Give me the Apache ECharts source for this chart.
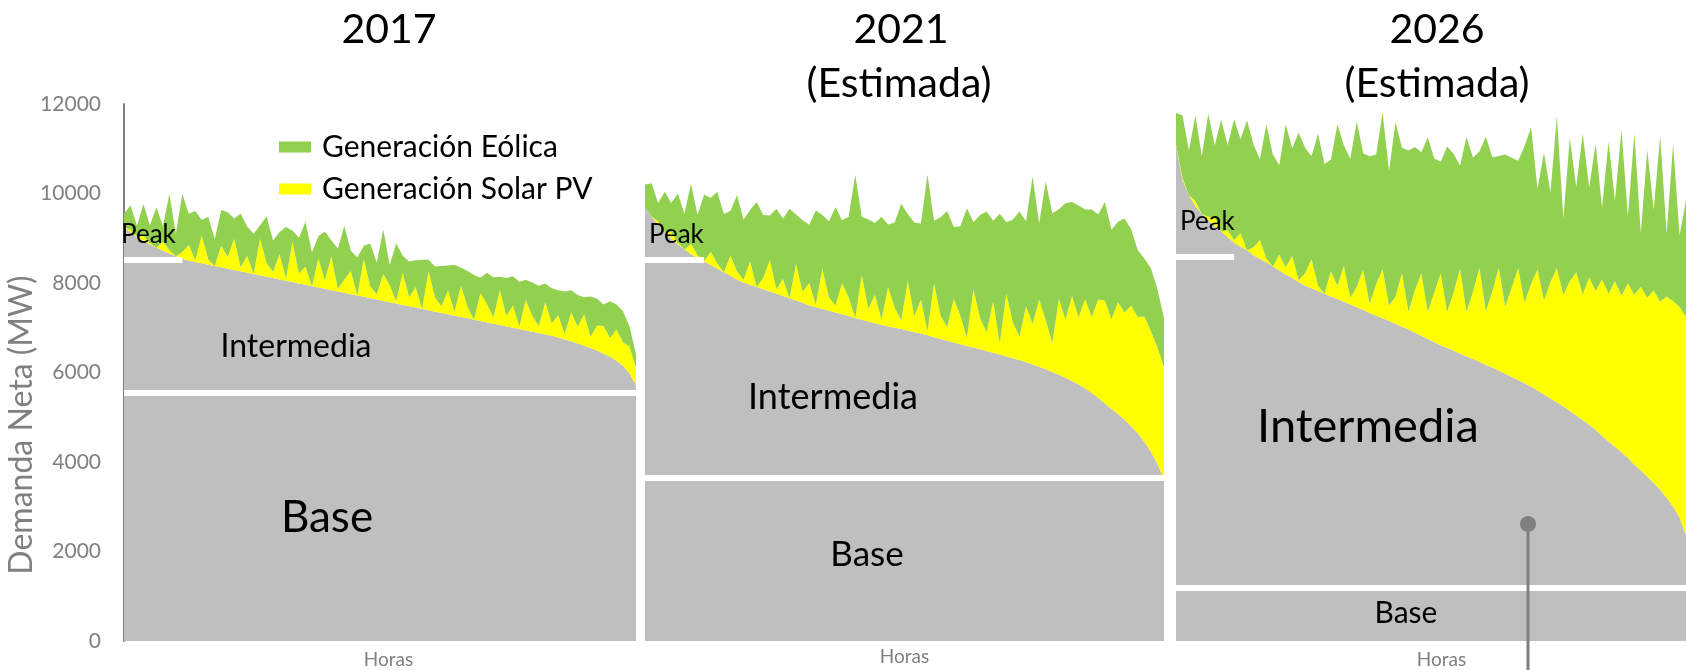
<!DOCTYPE html>
<html lang="es" style="height: 100%">

<head>
  <meta charset="utf-8">
</head>

<body style="height: 100%; margin: 0; background: #fff">
  <div id="container" style="width: 1686px; height: 670px"></div>

  <script type="text/javascript" src="https://cdn.jsdelivr.net/npm/echarts@6/dist/echarts.min.js"></script>
  <script type="text/javascript">
    // curvas de duración (80 muestras por año), MW
    var net2017 = [9250, 9130, 9030, 8940, 8860, 8790, 8720, 8660, 8600, 8540,
      8500, 8470, 8440, 8410, 8380, 8350, 8320, 8290, 8260, 8230,
      8200, 8170, 8140, 8110, 8080, 8050, 8020, 7990, 7960, 7930,
      7900, 7870, 7840, 7810, 7780, 7750, 7720, 7690, 7660, 7630,
      7600, 7570, 7540, 7510, 7480, 7450, 7420, 7390, 7360, 7330,
      7300, 7270, 7240, 7210, 7180, 7150, 7120, 7090, 7060, 7030,
      7000, 6970, 6940, 6910, 6880, 6850, 6820, 6780, 6740, 6700,
      6650, 6600, 6550, 6490, 6420, 6350, 6260, 6150, 5980, 5720];
    var solar2017 = [0, 60, 0, 120, 30, 0, 200, 80, 0, 150,
      350, 40, 620, 120, 0, 480, 260, 700, 90, 380,
      0, 820, 300, 140, 560, 50, 900, 220, 410, 0,
      650, 180, 760, 60, 300, 520, 0, 840, 270, 120,
      600, 380, 50, 720, 200, 460, 0, 880, 310, 150,
      540, 90, 700, 260, 0, 620, 410, 140, 780, 230,
      500, 60, 680, 350, 160, 720, 280, 500, 120, 640,
      380, 700, 250, 560, 620, 420, 700, 520, 600, 380];
    var wind2017 = [300, 550, 250, 700, 400, 900, 350, 1250, 500, 1300,
      700, 1100, 350, 950, 600, 800, 1000, 450, 1200, 650,
      900, 300, 1050, 700, 500, 1150, 250, 800, 1000, 750,
      500, 1100, 350, 900, 1200, 450, 850, 300, 950, 700,
      1000, 450, 1300, 380, 800, 600, 1100, 250, 700, 900,
      550, 1050, 400, 800, 1000, 350, 700, 900, 300, 850,
      650, 1000, 450, 750, 900, 420, 780, 560, 950, 500,
      700, 380, 900, 600, 480, 820, 560, 700, 450, 300];

    var net2021 = [9700, 9480, 9300, 9140, 8990, 8860, 8750, 8650, 8560, 8480,
      8400, 8320, 8240, 8160, 8080, 8010, 7960, 7910, 7860, 7810,
      7760, 7710, 7660, 7610, 7560, 7500, 7460, 7420, 7380, 7340,
      7300, 7260, 7220, 7180, 7140, 7100, 7060, 7030, 7000, 6970,
      6940, 6900, 6870, 6830, 6790, 6750, 6710, 6670, 6630, 6590,
      6560, 6520, 6480, 6440, 6400, 6360, 6320, 6280, 6230, 6180,
      6130, 6070, 6010, 5950, 5880, 5810, 5730, 5640, 5540, 5430,
      5310, 5190, 5070, 4940, 4800, 4640, 4450, 4230, 3960, 3620];
    var solar2021 = [0, 0, 80, 0, 150, 40, 0, 220, 60, 0,
      300, 120, 0, 450, 180, 60, 520, 0, 260, 700,
      100, 380, 0, 820, 240, 500, 60, 900, 300, 150,
      700, 420, 0, 1000, 280, 640, 120, 880, 450, 200,
      1100, 350, 760, 90, 1200, 520, 300, 980, 640, 180,
      1300, 700, 420, 1150, 250, 1400, 800, 520, 1250, 900,
      1500, 1100, 650, 1700, 1300, 1900, 1500, 2000, 1700, 2200,
      2300, 2000, 2500, 2400, 2700, 2600, 2800, 2700, 2600, 2500];
    var wind2021 = [500, 750, 400, 900, 650, 1100, 800, 1350, 900, 1500,
      1200, 1600, 1300, 1000, 1700, 1350, 1150, 1900, 1400, 1000,
      1800, 1350, 2000, 1100, 1600, 1300, 2100, 1200, 1700, 2200,
      1400, 1800, 3200, 1300, 2000, 1600, 2300, 1400, 1900, 2600,
      1500, 2100, 1700, 3500, 1400, 2200, 2600, 1600, 2000, 2900,
      1500, 2300, 2700, 1800, 2900, 1600, 2300, 2800, 1900, 3300,
      1700, 3100, 2900, 2000, 2600, 2100, 2500, 2000, 2400, 1900,
      2200, 2000, 1800, 2100, 1700, 1500, 1300, 1400, 1300, 1100];

    var net2026 = [11100, 10300, 9960, 9720, 9540, 9400, 9270, 9150, 9030, 8900,
      8810, 8730, 8620, 8540, 8460, 8370, 8280, 8190, 8110, 8020,
      7940, 7880, 7820, 7760, 7700, 7640, 7580, 7520, 7460, 7400,
      7330, 7270, 7210, 7150, 7090, 7020, 6960, 6890, 6820, 6750,
      6680, 6610, 6550, 6490, 6420, 6360, 6300, 6240, 6170, 6110,
      6040, 5970, 5900, 5830, 5760, 5680, 5600, 5510, 5420, 5330,
      5240, 5140, 5040, 4940, 4830, 4720, 4580, 4460, 4340, 4220,
      4090, 3940, 3810, 3670, 3530, 3380, 3200, 3000, 2760, 2350];
    var solar2026 = [0, 50, 0, 120, 0, 80, 200, 0, 150, 60,
      300, 0, 180, 420, 90, 0, 350, 160, 500, 40,
      280, 650, 120, 0, 560, 300, 800, 150, 450, 900,
      200, 700, 1100, 350, 600, 1200, 400, 950, 1400, 600,
      1100, 1600, 800, 1300, 1900, 1000, 1500, 2100, 1200, 1700,
      2300, 1500, 2000, 2500, 1800, 2300, 2700, 2100, 2600, 3000,
      2500, 2900, 3200, 2800, 3300, 3100, 3500, 3300, 3700, 3500,
      3900, 3800, 4100, 4000, 4300, 4200, 4500, 4600, 4700, 4900];
    var wind2026 = [700, 1400, 1000, 1900, 1300, 2300, 1600, 2500, 1900, 2700,
      2100, 2900, 2300, 1800, 3000, 2500, 2000, 3200, 2400, 3300,
      2800, 2300, 3400, 2900, 2500, 3600, 2700, 3100, 3700, 2600,
      3300, 2900, 3500, 3000, 3900, 2800, 3600, 3200, 2700, 3900,
      3000, 2500, 3700, 3100, 2300, 3900, 3000, 2600, 3900, 3000,
      2500, 3400, 2900, 2400, 3500, 3500, 1800, 3300, 2000, 3400,
      1700, 3200, 1900, 3600, 2000, 3300, 1600, 3400, 1800, 3700,
      1500, 3600, 1200, 3300, 1800, 3700, 1400, 3500, 1600, 2600];

    var years = ['2017', '2021', '2026'];
    var peakLevels = [8530, 8520, 8580];
    var baseLevels = [5540, 3640, 1180];
    var peakEnd = 9; // indice donde termina la linea de Peak

    var netData = [net2017, net2021, net2026];
    var solarData = [solar2017, solar2021, solar2026];
    var windData = [wind2017, wind2021, wind2026];
    var horas = net2017.map(function (_, i) { return i; });

    var FONT = 'Lato';
    var GREY = '#bfbfbf', YELLOW = '#ffff00', GREEN = '#92d050', AXIS = '#808080';

    var dom = document.getElementById('container');
    var myChart = echarts.init(dom, null, { renderer: 'canvas' });

    var grids = [
      { left: 124, top: 104, width: 512, height: 537, outerBoundsMode: 'none' },
      { left: 645, top: 104, width: 519, height: 537, outerBoundsMode: 'none' },
      { left: 1176, top: 104, width: 510, height: 537, outerBoundsMode: 'none' }
    ];
    var horasPad = [[0, 0, 0, 17], [0, 0, 0, 0], [0, 0, 0, 21]];
    var horasGap = [9, 6, 9];

    var xAxes = [], yAxes = [], series = [];
    years.forEach(function (y, k) {
      xAxes.push({
        type: 'category', gridIndex: k, data: horas, boundaryGap: false,
        axisLine: { show: false }, axisTick: { show: false }, axisLabel: { show: false },
        name: 'Horas', nameLocation: 'middle', nameGap: horasGap[k],
        nameTextStyle: { color: AXIS, fontSize: 19, fontFamily: FONT, padding: horasPad[k] }
      });
      yAxes.push({
        type: 'value', gridIndex: k, min: 0, max: 12000, interval: 2000,
        show: k === 0,
        axisLine: { show: true, lineStyle: { color: AXIS, width: 2 } },
        axisTick: { show: false },
        splitLine: { show: false },
        axisLabel: {
          color: AXIS, fontSize: 21, fontFamily: FONT, margin: 23,
          formatter: function (v) { return String(v); }
        }
      });
      var common = {
        type: 'line', stack: 'p' + k, xAxisIndex: k, yAxisIndex: k,
        showSymbol: false, symbol: 'none', silent: true,
        lineStyle: { width: 0 }
      };
      series.push(Object.assign({}, common, {
        name: 'Demanda Neta', data: netData[k],
        itemStyle: { color: GREY }, areaStyle: { color: GREY, opacity: 1 }
      }));
      series.push(Object.assign({}, common, {
        name: 'Generación Solar PV', data: solarData[k],
        itemStyle: { color: YELLOW }, areaStyle: { color: YELLOW, opacity: 1 }
      }));
      series.push(Object.assign({}, common, {
        name: 'Generación Eólica', data: windData[k],
        itemStyle: { color: GREEN }, areaStyle: { color: GREEN, opacity: 1 },
        markLine: {
          silent: true, symbol: 'none', animation: false,
          label: { show: false },
          lineStyle: { color: '#ffffff', width: 6, type: 'solid', opacity: 1 },
          data: [
            { yAxis: baseLevels[k] },
            [{ coord: [0, peakLevels[k]] }, { coord: [peakEnd, peakLevels[k]] }]
          ]
        }
      }));
    });

    function txt(x, y, text, size, opts) {
      opts = opts || {};
      return {
        type: 'text', x: x, y: y, z: 100, silent: true,
        rotation: opts.rotation || 0,
        style: {
          text: text, fontSize: size, fontFamily: FONT,
          fill: opts.color || '#000',
          textAlign: opts.align || 'center', textVerticalAlign: 'middle'
        }
      };
    }

    var option = {
      animation: false,
      backgroundColor: '#fff',
      grid: grids,
      xAxis: xAxes,
      yAxis: yAxes,
      legend: {
        data: ['Generación Eólica', 'Generación Solar PV'],
        orient: 'vertical', left: 274, top: 127,
        itemWidth: 32, itemHeight: 11, itemGap: 12,
        icon: 'rect', selectedMode: false,
        textStyle: { fontSize: 30, color: '#000', fontFamily: FONT, padding: [0, 0, 0, 6] }
      },
      graphic: [
        txt(389, 30, '2017', 41),
        txt(901, 30, '2021', 41),
        txt(899, 84, '(Estimada)', 41),
        txt(1437, 30, '2026', 41),
        txt(1437, 84, '(Estimada)', 41),
        txt(22, 425, 'Demanda Neta (MW)', 32, { rotation: Math.PI / 2, color: AXIS }),
        txt(121, 235, 'Peak', 26, { align: 'left' }),
        txt(649, 235, 'Peak', 26, { align: 'left' }),
        txt(1180, 222, 'Peak', 26, { align: 'left' }),
        txt(296, 347, 'Intermedia', 32),
        txt(833, 397, 'Intermedia', 36),
        txt(1368, 427, 'Intermedia', 47),
        txt(327, 518, 'Base', 44),
        txt(867, 555, 'Base', 35),
        txt(1406, 613, 'Base', 30),
        {
          type: 'line', z: 100, silent: true,
          shape: { x1: 1528, y1: 524, x2: 1528, y2: 672 },
          style: { stroke: AXIS, lineWidth: 3 }
        },
        {
          type: 'circle', z: 101, silent: true,
          shape: { cx: 1528, cy: 524, r: 8 },
          style: { fill: AXIS }
        }
      ],
      series: series
    };

    if (option && typeof option === 'object') {
      myChart.setOption(option);
    }

    window.addEventListener('resize', myChart.resize);
  </script>
</body>

</html>
